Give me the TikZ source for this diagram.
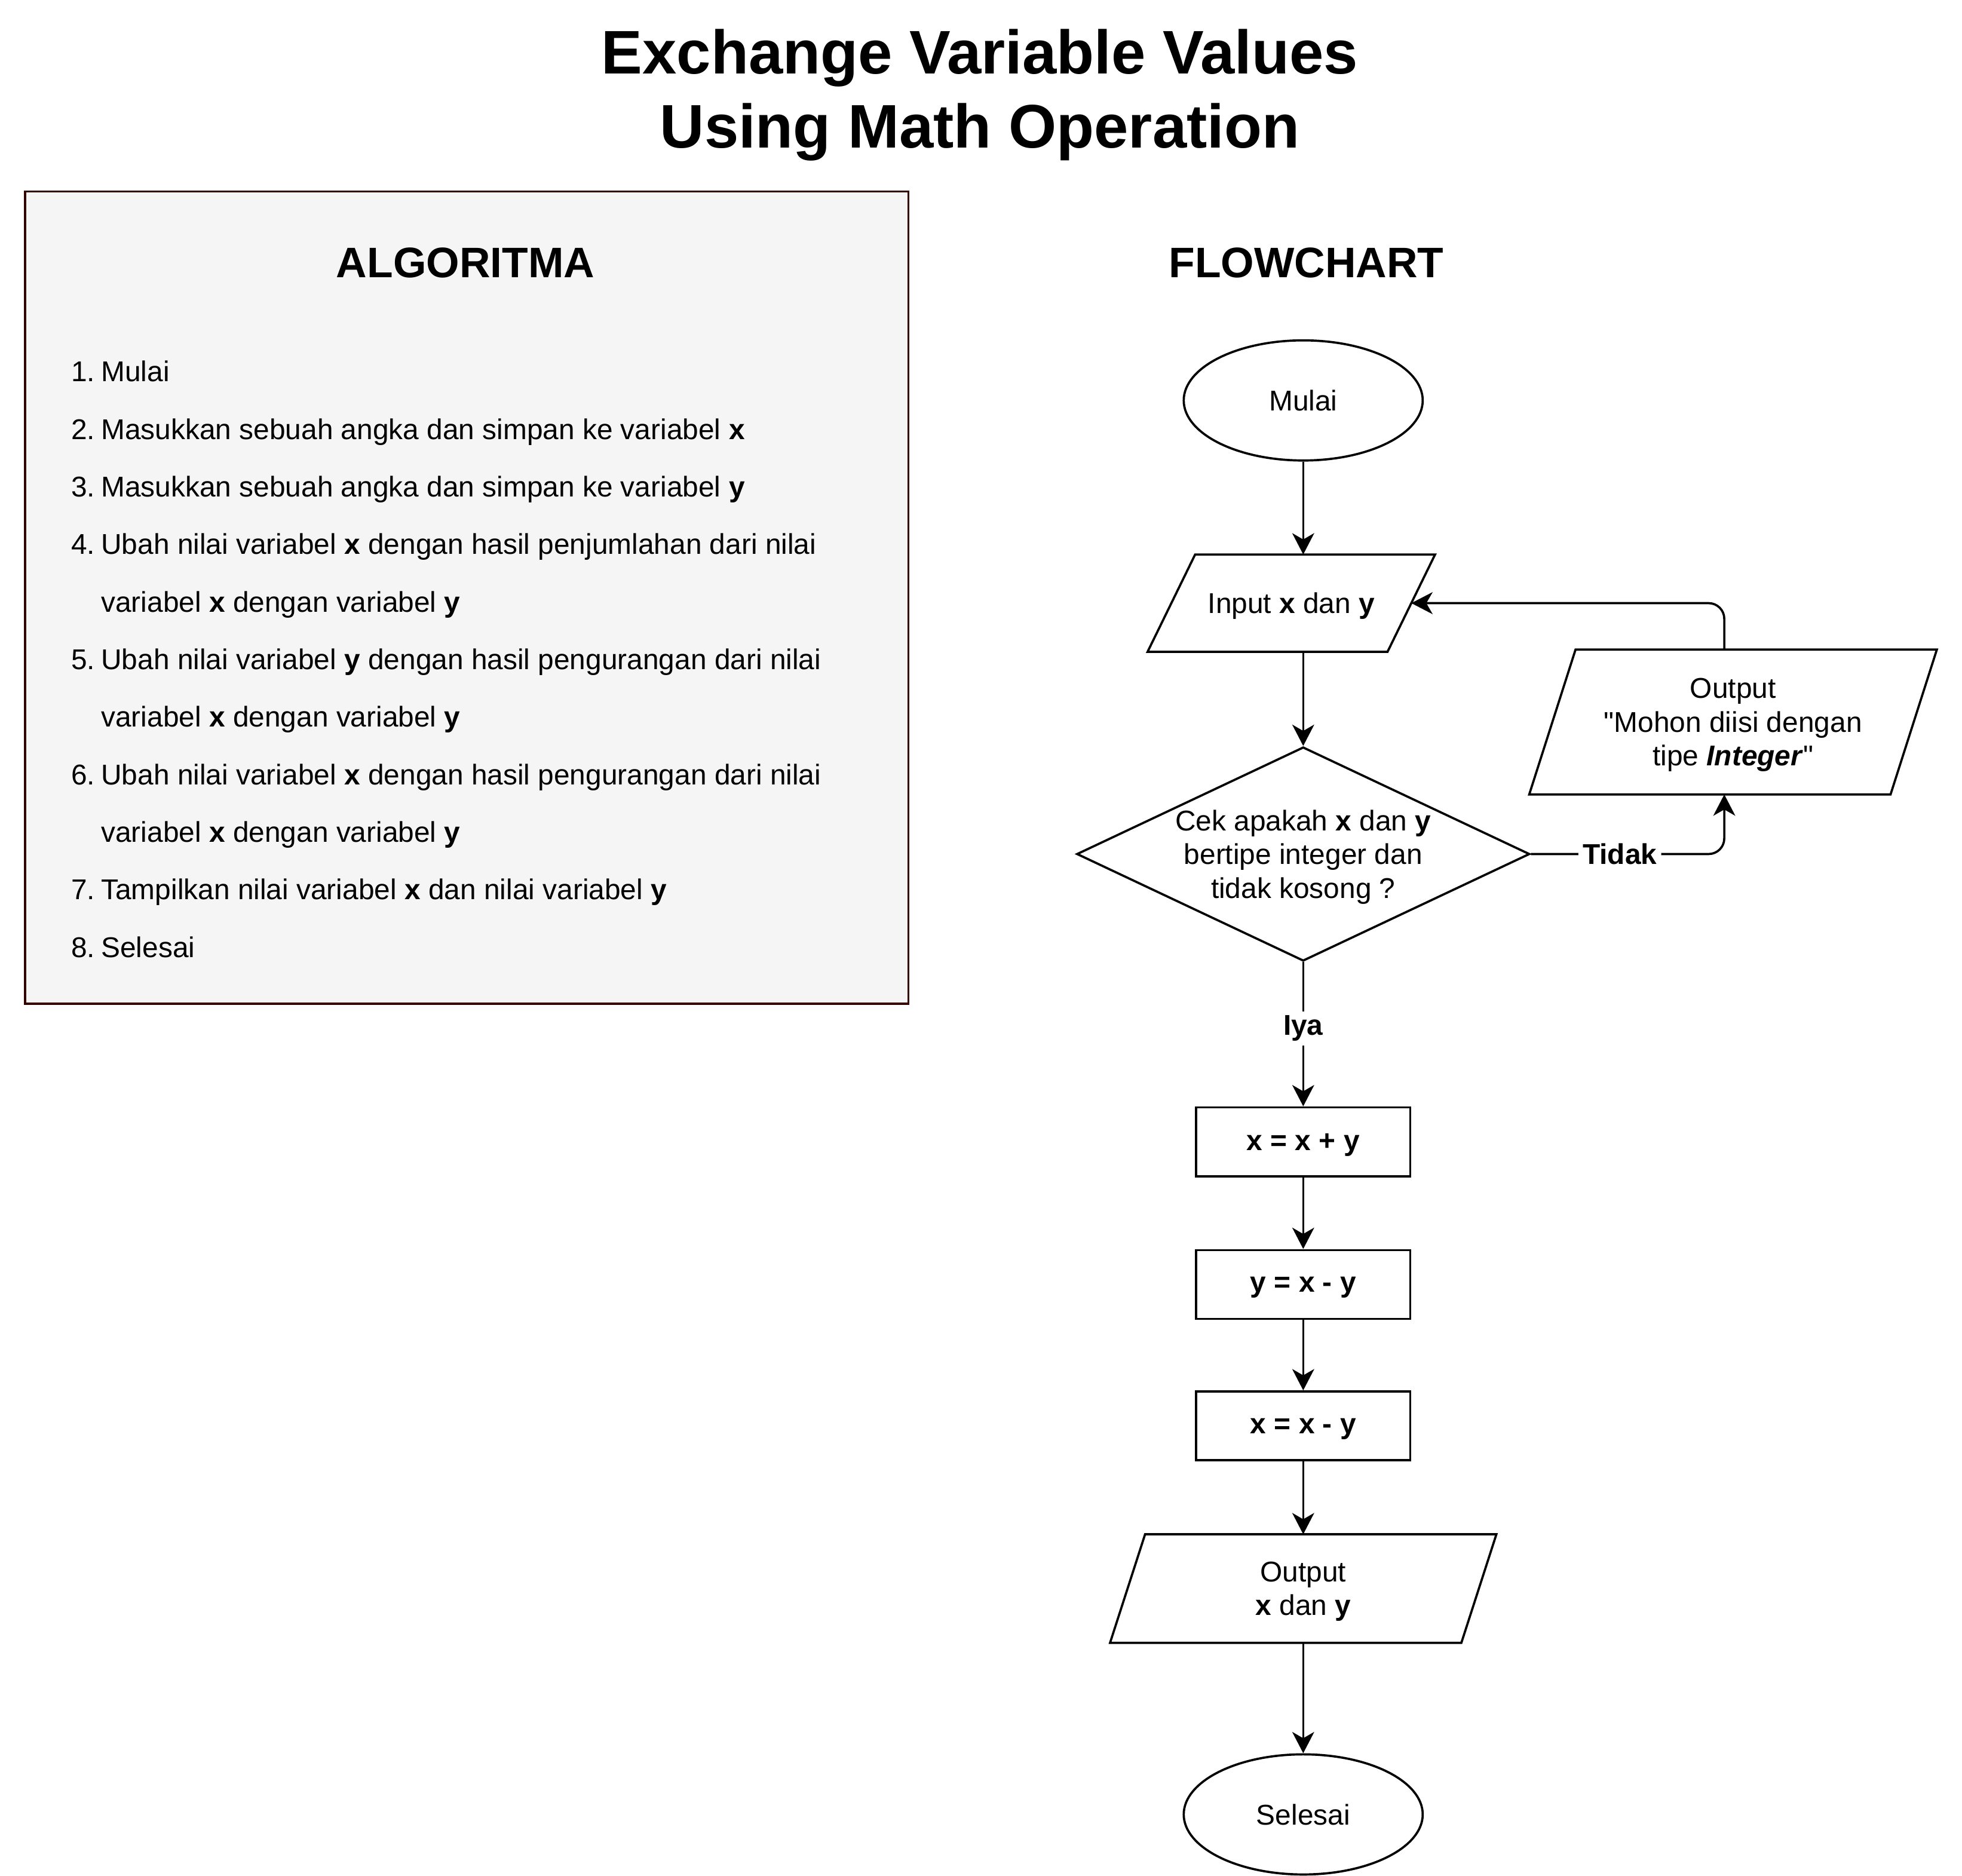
\documentclass[tikz,border=0pt]{standalone}
\usepackage{fontspec}
\setmainfont{Liberation Sans}
\usepackage{tikz}
\usetikzlibrary{arrows.meta}
\usetikzlibrary{shapes.geometric}
\definecolor{boxgray}{HTML}{F5F5F5}
\definecolor{boxedge}{HTML}{330000}
\newcommand{\algnum}[1]{\makebox[0.48cm][l]{#1}}

\begin{document}
\begin{tikzpicture}[line width=1pt,
  txt/.style={font=\fontsize{13}{15.3}\selectfont},
  txtb/.style={font=\bfseries\fontsize{13}{15.3}\selectfont},
  head/.style={font=\bfseries\fontsize{19.4}{23}\selectfont},
  item/.style={txt,anchor=base west,inner sep=0pt},
  term/.style={txt,draw,ellipse,minimum width=3.82cm,minimum height=1.92cm},
  proc/.style={txtb,draw,rectangle,text depth=0pt,minimum width=3.42cm,minimum height=1.10cm},
  io/.style={txt,rectangle,text depth=0pt,align=center,
    append after command={\pgfextra{\draw ([xshift=-#1]\tikzlastnode.south west) -- ([xshift=-#1]\tikzlastnode.south east) -- ([xshift=#1]\tikzlastnode.north east) -- ([xshift=#1]\tikzlastnode.north west) -- cycle;}}},
  flow/.style={-{Stealth[length=3.4mm,width=3.5mm,inset=1mm]}},
  lbl/.style={txtb,fill=white,inner sep=2pt}]
\useasboundingbox (0,0) rectangle (31.36,-29.98);

\node[align=center,font=\bfseries\fontsize{28}{33.5}\selectfont] (title) at (15.66,-1.52) {Exchange Variable Values\\Using Math Operation};

\node[draw=boxedge,fill=boxgray,minimum width=14.12cm,minimum height=12.98cm] (algo) at (7.46,-9.55) {};
\node[head] (algohead) at (7.44,-4.20) {ALGORITMA};
\node[item] (alg1) at (1.12,-6.10) {\algnum{1.}Mulai};
\node[item] (alg2) at (1.12,-7.02) {\algnum{2.}Masukkan sebuah angka dan simpan ke variabel \textbf{x}};
\node[item] (alg3) at (1.12,-7.94) {\algnum{3.}Masukkan sebuah angka dan simpan ke variabel \textbf{y}};
\node[item] (alg4) at (1.12,-8.86) {\algnum{4.}Ubah nilai variabel \textbf{x} dengan hasil penjumlahan dari nilai};
\node[item] (alg4b) at (1.60,-9.78) {variabel \textbf{x} dengan variabel \textbf{y}};
\node[item] (alg5) at (1.12,-10.70) {\algnum{5.}Ubah nilai variabel \textbf{y} dengan hasil pengurangan dari nilai};
\node[item] (alg5b) at (1.60,-11.62) {variabel \textbf{x} dengan variabel \textbf{y}};
\node[item] (alg6) at (1.12,-12.54) {\algnum{6.}Ubah nilai variabel \textbf{x} dengan hasil pengurangan dari nilai};
\node[item] (alg6b) at (1.60,-13.46) {variabel \textbf{x} dengan variabel \textbf{y}};
\node[item] (alg7) at (1.12,-14.38) {\algnum{7.}Tampilkan nilai variabel \textbf{x} dan nilai variabel \textbf{y}};
\node[item] (alg8) at (1.12,-15.30) {\algnum{8.}Selesai};

\node[head] (flowhead) at (20.88,-4.20) {FLOWCHART};
\node[term] (start) at (20.83,-6.40) {Mulai};
\node[io=0.38cm,minimum width=3.80cm,minimum height=1.52cm] (inp) at (20.64,-9.64) {Input \textbf{x} dan \textbf{y}};
\node[txt,draw,diamond,aspect=2.12,inner sep=0pt,text depth=0pt,align=center,minimum width=7.24cm,minimum height=3.42cm] (decide) at (20.83,-13.65) {Cek apakah \textbf{x} dan \textbf{y}\\bertipe integer dan\\tidak kosong ?};
\node[io=0.37cm,minimum width=5.74cm,minimum height=2.28cm] (outmsg) at (27.70,-11.54) {Output\\\textquotedbl Mohon diisi dengan\\tipe \textbf{\textit{Integer}}\textquotedbl};
\node[proc] (sum) at (20.83,-18.25) {x = x + y};
\node[proc] (suby) at (20.83,-20.53) {y = x - y};
\node[proc] (subx) at (20.83,-22.79) {x = x - y};
\node[io=0.28cm,minimum width=5.58cm,minimum height=1.70cm] (outxy) at (20.83,-25.39) {Output\\\textbf{x} dan \textbf{y}};
\node[term] (stop) at (20.83,-29.00) {Selesai};

\draw[flow] (start) -- (start |- inp.north);
\draw[flow] (start |- inp.south) -- (decide.north);
\draw[flow] (decide) -- (sum) node[pos=0.46,lbl] {Iya};
\draw[flow] (sum) -- (suby);
\draw[flow] (suby) -- (subx);
\draw[flow] (subx) -- (outxy);
\draw[flow] (outxy) -- (stop);
\draw[flow,rounded corners=0.25cm] (decide.east) -| ([xshift=-1.4mm]outmsg.south) node[pos=0.23,lbl] {Tidak};
\draw[flow,rounded corners=0.25cm] ([xshift=-1.4mm]outmsg.north) |- (inp.east);
\end{tikzpicture}
\end{document}
